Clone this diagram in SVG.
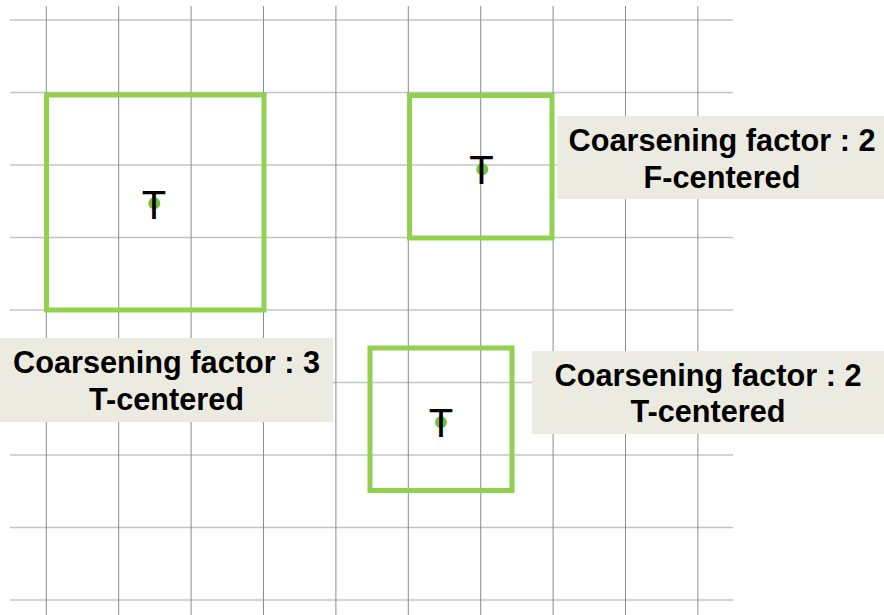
<svg xmlns="http://www.w3.org/2000/svg" width="884" height="615" viewBox="0 0 884 615">
<style>
.h{stroke:#c4c4c4;stroke-width:1.5}
.v{stroke:#8c8c8c;stroke-width:1}
.sq{fill:none;stroke:#92d050;stroke-width:5}
.dot{fill:#7ac143}
.t{font-family:"Liberation Sans",Arial,sans-serif;font-size:40px;fill:#000;text-anchor:middle}
.box{fill:#ecebe2}
.lbl{font-family:"Liberation Sans",Arial,sans-serif;font-size:30.7px;font-weight:bold;fill:#000;text-anchor:middle}
</style>
<rect width="884" height="615" fill="#fff"/>
<g id="grid">
<line class="h" x1="10" y1="20" x2="733" y2="20"/>
<line class="h" x1="10" y1="92.5" x2="733" y2="92.5"/>
<line class="h" x1="10" y1="165" x2="733" y2="165"/>
<line class="h" x1="10" y1="237.5" x2="733" y2="237.5"/>
<line class="h" x1="10" y1="310" x2="733" y2="310"/>
<line class="h" x1="10" y1="382.5" x2="733" y2="382.5"/>
<line class="h" x1="10" y1="455" x2="733" y2="455"/>
<line class="h" x1="10" y1="527.5" x2="733" y2="527.5"/>
<line class="h" x1="10" y1="600" x2="733" y2="600"/>
<line class="v" x1="46.3" y1="6" x2="46.3" y2="615"/>
<line class="v" x1="118.7" y1="6" x2="118.7" y2="615"/>
<line class="v" x1="191.1" y1="6" x2="191.1" y2="615"/>
<line class="v" x1="263.5" y1="6" x2="263.5" y2="615"/>
<line class="v" x1="335.9" y1="6" x2="335.9" y2="615"/>
<line class="v" x1="408.3" y1="6" x2="408.3" y2="615"/>
<line class="v" x1="480.7" y1="6" x2="480.7" y2="615"/>
<line class="v" x1="553.1" y1="6" x2="553.1" y2="615"/>
<line class="v" x1="625.5" y1="6" x2="625.5" y2="615"/>
<line class="v" x1="697.9" y1="6" x2="697.9" y2="615"/>
</g>
<g id="cell-factor3">
<rect class="sq" x="46.5" y="95" width="217.5" height="215"/>
<circle class="dot" cx="154.3" cy="203.3" r="6"/>
<text class="t" x="154" y="219">T</text>
</g>
<g id="cell-factor2-F">
<rect class="sq" x="409.5" y="95.5" width="142.5" height="142.5"/>
<circle class="dot" cx="482.3" cy="169.3" r="6"/>
<text class="t" x="481.5" y="184">T</text>
</g>
<g id="cell-factor2-T">
<rect class="sq" x="370" y="348" width="142" height="142.5"/>
<circle class="dot" cx="441" cy="422.3" r="6"/>
<text class="t" x="441" y="437">T</text>
</g>
<g id="label-factor3">
<rect class="box" x="0" y="338" width="333" height="84"/>
<text class="lbl" x="166.5" y="373">Coarsening factor : 3</text>
<text class="lbl" x="166.5" y="410">T-centered</text>
</g>
<g id="label-factor2-F">
<rect class="box" x="557" y="116" width="327" height="83"/>
<text class="lbl" x="722" y="151">Coarsening factor : 2</text>
<text class="lbl" x="722" y="187.5">F-centered</text>
</g>
<g id="label-factor2-T">
<rect class="box" x="532" y="351" width="352" height="83"/>
<text class="lbl" x="708" y="386">Coarsening factor : 2</text>
<text class="lbl" x="708" y="421.7">T-centered</text>
</g>
<g id="connectors"/>
</svg>
